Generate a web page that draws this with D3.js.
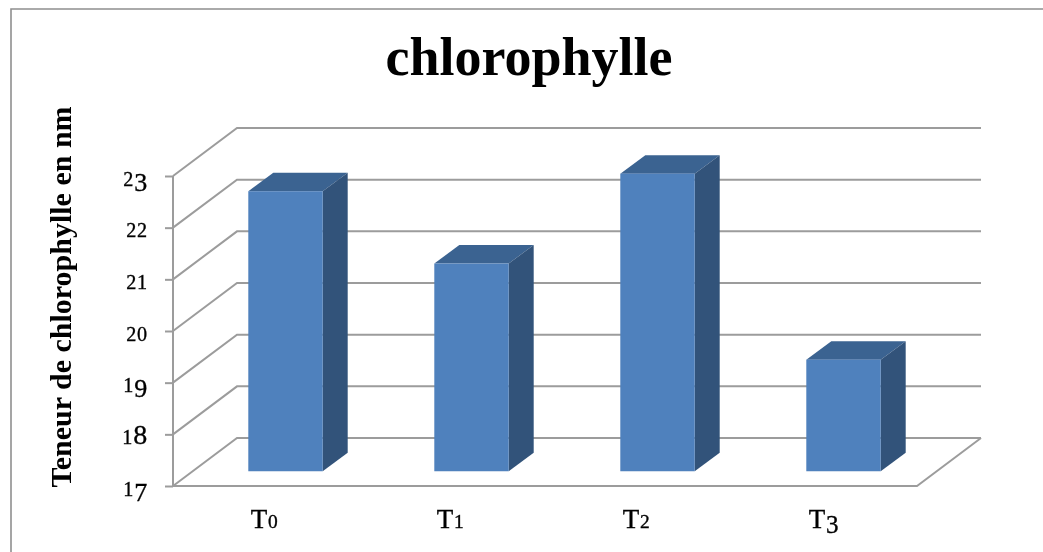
<!DOCTYPE html>
<html><head><meta charset="utf-8">
<script src="https://cdn.jsdelivr.net/npm/d3@7"></script>
<style>html,body{margin:0;padding:0;background:#fff;overflow:hidden}svg{display:block;filter:blur(0.4px)}text{font-family:"Liberation Serif",serif;fill:#000}.num{stroke:#000;stroke-width:.35px;letter-spacing:.8px}</style>
</head><body><svg id="c" width="1043" height="552"></svg>
<script>
const chartTitle = "chlorophylle";
const yTitle = "Teneur de chlorophylle en nm";
const categories = ["T0","T1","T2","T3"];
const values = [22.42,21.02,22.76,19.16];
const yTicks = [17,18,19,20,21,22,23];

(function(){
const svg = d3.select("#c");
const GRID="#9c9c9c", FRONT="#4f81bd", TOPC="#3b6391", SIDE="#32537a";
const pL=173, pR=917, pB=486, pT=176, wallDx=64, wallDy=-48, barDx=25, barDy=-18.5;
const y = d3.scaleLinear().domain([17,23]).range([pB,pT]);
const x = d3.scaleBand().domain(categories).range([pL,pR]).paddingInner(0.6).paddingOuter(0.3);

svg.append("path").attr("d","M11,552V9H1043").attr("fill","none").attr("stroke","#8f8f8f").attr("stroke-width",1.6);

// Old-style figures: the font has lining figures only, so size and shift each digit
function oldstyle(sel, s, size){
  const lowDigits = "012", descDigits = "34579";
  let prev = 0;
  for(const ch of s){
    let fs=size, shift=0;
    if(lowDigits.includes(ch)) fs=size*0.72;
    else if(descDigits.includes(ch)){ fs=size*0.93; shift=size*0.19; }
    sel.append("tspan").attr("font-size",fs).attr("dy",shift-prev).text(ch);
    prev=shift;
  }
}

const grid = svg.append("g").attr("fill","none").attr("stroke",GRID).attr("stroke-width",2);
grid.selectAll(".wall").data(yTicks).join("path").attr("class","wall")
  .attr("d",v=>`M${pL},${y(v)}l${wallDx},${wallDy}H${pR+wallDx}`);
grid.append("path").attr("d",`M${pL},${pT}V${pB}H${pR}l${wallDx},${wallDy}`);

const axis = d3.axisLeft(y).tickValues(yTicks).tickSize(8).tickFormat("");
const ag = svg.append("g").attr("transform",`translate(${pL},0)`).call(axis);
ag.select(".domain").remove();
ag.selectAll("line").attr("stroke",GRID).attr("stroke-width",2);

const baseY = pB+(wallDy-barDy)/2, shiftX=(wallDx-barDx)/2;
const bars = svg.append("g").selectAll("g").data(categories).join("g");
const bx=c=>x(c)+shiftX, w=x.bandwidth();
const barH=(d,i)=>y(17)-y(values[i]);
bars.append("path").attr("fill",TOPC)
  .attr("d",(d,i)=>{const t=baseY-barH(d,i);return `M${bx(d)},${t}l${barDx},${barDy}h${w}l${-barDx},${-barDy}z`;});
bars.append("path").attr("fill",SIDE)
  .attr("d",(d,i)=>{const t=baseY-barH(d,i);return `M${bx(d)+w},${t}l${barDx},${barDy}V${baseY+barDy}l${-barDx},${-barDy}z`;});
bars.append("rect").attr("fill",FRONT).attr("x",d=>bx(d)).attr("width",w)
  .attr("y",(d,i)=>baseY-barH(d,i)).attr("height",(d,i)=>barH(d,i));

svg.append("text").attr("x",529).attr("y",75).attr("text-anchor","middle")
  .attr("font-size",54).attr("font-weight",700).text(chartTitle);
svg.append("text").attr("transform","translate(71,297) rotate(-90)").attr("text-anchor","middle")
  .attr("font-size",30).attr("font-weight",700).text(yTitle);

svg.append("g").selectAll("text").data(yTicks).join("text").attr("class","num")
  .attr("x",148).attr("y",v=>y(v)+9.5).attr("text-anchor","end")
  .each(function(v){oldstyle(d3.select(this),String(v),28);});

svg.append("g").selectAll("text").data(categories).join("text").attr("class","num")
  .attr("x",c=>x(c)+22).attr("y",528)
  .each(function(c){const t=d3.select(this);t.append("tspan").attr("font-size",27).text(c[0]);oldstyle(t,c.slice(1),27);});
})();
</script></body></html>
